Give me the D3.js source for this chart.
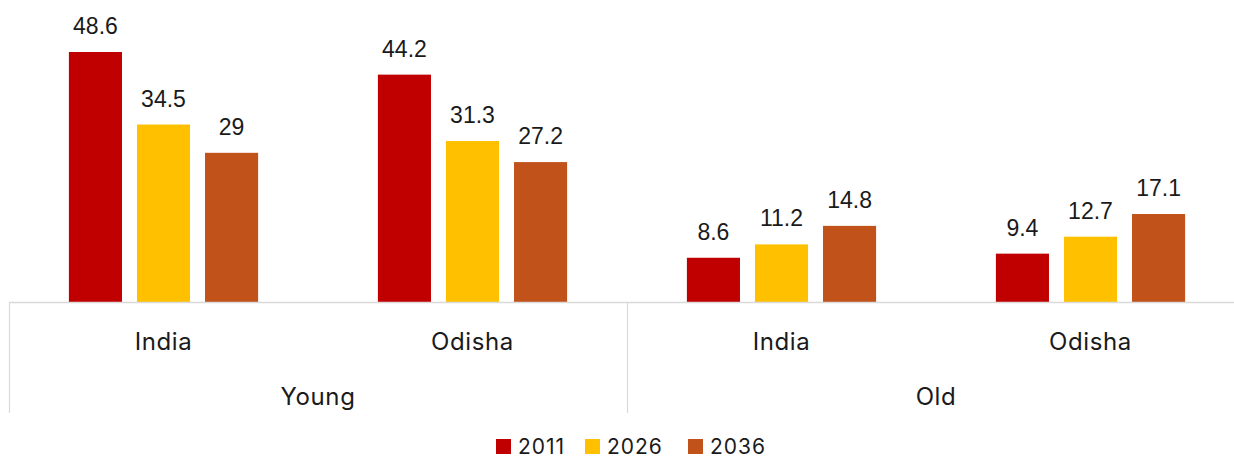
<!DOCTYPE html>
<html>
<head>
<meta charset="utf-8">
<script src="https://cdn.jsdelivr.net/npm/d3@7"></script>
<style>
  body { margin: 0; background: #fff; }
  .val { font-family: "Liberation Sans", Arial, sans-serif; font-size: 23px; fill: #1a1a1a; }
  .cat { font-family: Inter, "Open Sans", sans-serif; font-size: 24px; letter-spacing: 0.6px; fill: #1a1a1a; }
</style>
</head>
<body>
<div id="chart"></div>
<script>
// data
const groups = ["Young", "Young", "Old", "Old"];
const regions = ["India", "Odisha", "India", "Odisha"];
const series = ["2011", "2026", "2036"];
const values2011 = [48.6, 44.2, 8.6, 9.4];
const values2026 = [34.5, 31.3, 11.2, 12.7];
const values2036 = [29, 27.2, 14.8, 17.1];
const colors = ["#c00000", "#ffc000", "#c0521a"];

const W = 1234, H = 460;
const baseY = 302;

const svg = d3.select("#chart").append("svg")
  .attr("width", W).attr("height", H);

const x0 = d3.scaleBand()
  .domain(d3.range(regions.length))
  .range([9, 1245]);

const x1 = d3.scaleBand()
  .domain(series)
  .range([0, x0.bandwidth()])
  .paddingInner(0.22)
  .paddingOuter(0.88);

const y = d3.scaleLinear()
  .domain([0, 48.6])
  .range([baseY, 52]);

const table = regions.map((r, i) => ({
  i, region: r, group: groups[i],
  vals: [values2011[i], values2026[i], values2036[i]]
}));

const g = svg.selectAll("g.cat-group")
  .data(table).enter().append("g")
  .attr("transform", d => "translate(" + x0(d.i) + ",0)");

g.selectAll("rect")
  .data(d => d.vals.map((v, k) => ({ v, k })))
  .enter().append("rect")
  .attr("x", d => x1(series[d.k]))
  .attr("width", x1.bandwidth())
  .attr("y", d => y(d.v))
  .attr("height", d => baseY - y(d.v))
  .attr("fill", d => colors[d.k]);

g.selectAll("text.val")
  .data(d => d.vals.map((v, k) => ({ v, k })))
  .enter().append("text")
  .classed("val", true)
  .attr("text-anchor", "middle")
  .attr("x", d => x1(series[d.k]) + x1.bandwidth() / 2)
  .attr("y", d => y(d.v) - 18)
  .text(d => d.v);

// axis line and group separators
svg.append("line")
  .attr("x1", 9).attr("x2", W)
  .attr("y1", baseY + 0.5).attr("y2", baseY + 0.5)
  .attr("stroke", "#d9d9d9").attr("stroke-width", 1.5);

const seps = [0, 2];
svg.selectAll("line.sep")
  .data(seps).enter().append("line")
  .attr("x1", d => x0(d) + 0.5)
  .attr("x2", d => x0(d) + 0.5)
  .attr("y1", baseY).attr("y2", 413)
  .attr("stroke", "#d9d9d9").attr("stroke-width", 1.2);

// region labels
svg.selectAll("text.region")
  .data(table).enter().append("text")
  .classed("cat", true)
  .attr("text-anchor", "middle")
  .attr("x", d => x0(d.i) + x0.bandwidth() / 2)
  .attr("y", 350)
  .text(d => d.region);

// group labels
const groupNames = Array.from(new Set(groups));
svg.selectAll("text.grp")
  .data(groupNames).enter().append("text")
  .classed("cat", true)
  .attr("text-anchor", "middle")
  .attr("x", gn => {
    const idx = groups.map((gg, i) => gg === gn ? i : -1).filter(i => i >= 0);
    return (x0(idx[0]) + x0(idx[idx.length - 1]) + x0.bandwidth()) / 2;
  })
  .attr("y", 405)
  .text(gn => gn);

// legend
const legX = [496, 585, 688];
const leg = svg.selectAll("g.leg")
  .data(series).enter().append("g")
  .attr("transform", (d, i) => "translate(" + legX[i] + ",439)");
leg.append("rect")
  .attr("width", 15).attr("height", 15)
  .attr("fill", (d, i) => colors[i]);
leg.append("text")
  .classed("cat", true)
  .style("font-size", "21px")
  .style("letter-spacing", "1px")
  .attr("x", 22).attr("y", 15)
  .text(d => d);
</script>
</body>
</html>
